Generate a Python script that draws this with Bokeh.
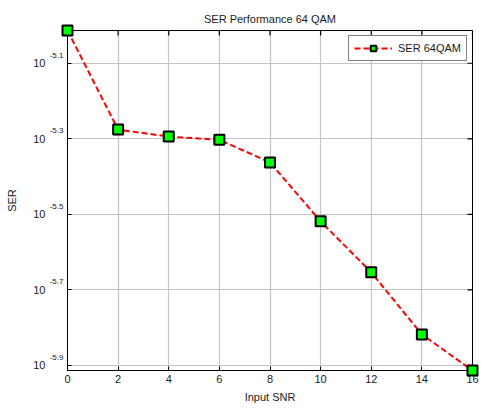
import math
from bokeh.plotting import figure
from bokeh.models import Range1d, FixedTicker, LogAxis, Legend, LegendItem
from bokeh.embed import file_html
from bokeh.resources import INLINE

# SNR (dB) and measured symbol error rate for 64-QAM
snr = [0, 2, 4, 6, 8, 10, 12, 14, 16]
ser = [9.70e-6, 5.30e-6, 5.08e-6, 4.98e-6, 4.34e-6, 3.03e-6, 2.22e-6, 1.52e-6, 1.22e-6]

x_ticks = [0, 2, 4, 6, 8, 10, 12, 14, 16]
y_exponents = [-5.1, -5.3, -5.5, -5.7, -5.9]
y_ticks = [10 ** e for e in y_exponents]

FONT = "Liberation Sans"
INK = "#1a1a1a"

x_lo, x_hi = min(snr), max(snr)
y_lo, y_hi = min(ser), max(ser)

p = figure(width=483, height=408, output_backend="svg", toolbar_location=None,
           y_axis_type="log",
           x_range=Range1d(x_lo, x_hi), y_range=Range1d(y_lo, y_hi),
           min_border_left=67, min_border_right=11,
           min_border_top=30, min_border_bottom=38,
           title="SER Performance 64 QAM")
p.frame_width = 405
p.frame_height = 340
p.background_fill_color = "white"
p.border_fill_color = "white"
p.outline_line_color = "black"
p.outline_line_width = 1

p.title.align = "center"
p.title.text_font = FONT
p.title.text_font_size = "11px"
p.title.text_font_style = "normal"
p.title.text_color = INK
p.title.standoff = 12

# grid
p.xgrid.ticker = FixedTicker(ticks=x_ticks)
p.ygrid.ticker = FixedTicker(ticks=y_ticks)
for g in (p.xgrid, p.ygrid):
    g.grid_line_color = "#c4c4c4"
    g.grid_line_width = 1.2

# bottom axis
xa = p.xaxis[0]
xa.ticker = FixedTicker(ticks=x_ticks)
xa.axis_label = "Input SNR"
xa.axis_label_standoff = 5
xa.major_label_standoff = 4

# inner left axis carries the ticks and the raised exponents
# (a blank second line lifts each exponent above its tick)
ye = p.yaxis[0]
ye.ticker = FixedTicker(ticks=y_ticks)
ye.major_label_overrides = {t: f"{e:.1f}\n " for e, t in zip(y_exponents, y_ticks)}
ye.major_label_standoff = 4

# outer left axis carries the "10" bases and the axis title
yb = LogAxis(ticker=FixedTicker(ticks=y_ticks),
             major_label_overrides={t: "10" for t in y_ticks},
             major_label_standoff=1, axis_label="SER", axis_label_standoff=12,
             axis_line_color=None, major_tick_line_color=None)
p.add_layout(yb, "left")

for ax in (xa, ye, yb):
    ax.axis_label_text_font = FONT
    ax.axis_label_text_font_size = "11px"
    ax.axis_label_text_font_style = "normal"
    ax.axis_label_text_color = INK
    ax.major_label_text_font = FONT
    ax.major_label_text_font_size = "11px"
    ax.major_label_text_color = INK
    ax.major_tick_in = 4
    ax.major_tick_out = 0
    ax.minor_tick_line_color = None
ye.major_label_text_font_size = "8px"
ye.major_label_text_line_height = 1.8
for ax in (xa, ye):
    ax.axis_line_color = "black"
    ax.major_tick_line_color = "black"

# mirrored inward ticks along the top and right edges (the frame clips the
# outer half of each dash)
p.scatter(x=x_ticks, y=[y_hi] * len(x_ticks), marker="dash", size=10,
          angle=math.pi / 2, line_color="black", line_width=1.2)
p.scatter(x=[x_hi] * len(y_ticks), y=y_ticks, marker="dash", size=10,
          line_color="black", line_width=1.2)

# data: dashed line inside the frame, markers drawn on top without clipping
ln = p.line(snr, ser, line_color="#ff0000", line_width=2, line_dash="6 3")
sc = p.scatter(snr, ser, marker="square", size=10, fill_color="#00ff00",
               line_color="black", line_width=2, level="overlay")

legend = Legend(items=[LegendItem(label="SER 64QAM", renderers=[ln, sc])],
                location="top_right", margin=5, padding=5, spacing=0,
                glyph_width=38, glyph_height=14, label_standoff=6,
                label_text_font=FONT, label_text_font_size="11px",
                label_text_color=INK,
                border_line_color="black", border_line_width=1.5,
                background_fill_color="white", background_fill_alpha=1)
p.add_layout(legend, "center")

open("out.html", "w").write(file_html(p, INLINE))
